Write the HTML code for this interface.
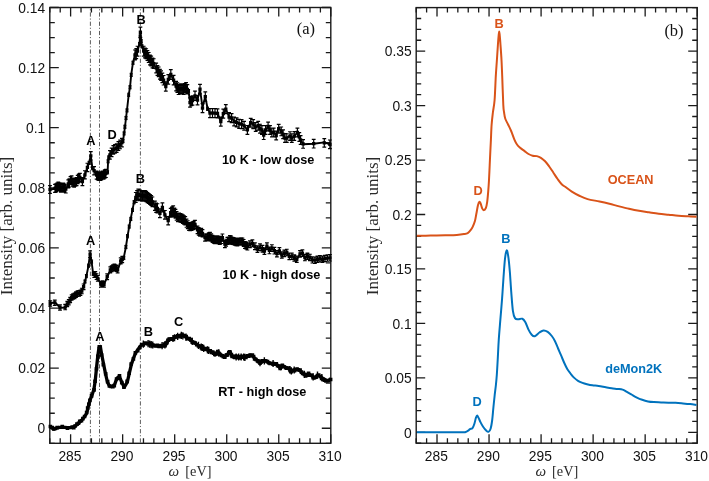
<!DOCTYPE html>
<html><head><meta charset="utf-8"><style>
html,body{margin:0;padding:0;background:#fff;width:709px;height:481px;overflow:hidden}
svg{display:block;will-change:transform}
.tl{font-family:"Liberation Sans",sans-serif;font-size:13.8px;fill:#111}
.lb{font-family:"Liberation Sans",sans-serif;font-size:12.7px;font-weight:bold}
.pk{font-family:"Liberation Sans",sans-serif;font-size:12.8px;font-weight:bold}
.pt{font-family:"Liberation Serif",serif;font-size:16.5px;fill:#111}
.at{font-family:"Liberation Serif",serif;font-size:15px;fill:#2a2a2a}
.yt{font-size:17px}
</style></head><body>
<svg width="709" height="481" viewBox="0 0 709 481">
<line x1="90.4" y1="8.2" x2="90.4" y2="442.6" stroke="#4a4a4a" stroke-width="0.9" stroke-dasharray="4.2 1.9 1.1 2.06" stroke-dashoffset="5.06"/>
<line x1="99.5" y1="8.2" x2="99.5" y2="442.6" stroke="#4a4a4a" stroke-width="0.9" stroke-dasharray="4.2 1.9 1.1 2.06" stroke-dashoffset="5.06"/>
<line x1="140.4" y1="8.2" x2="140.4" y2="442.6" stroke="#4a4a4a" stroke-width="0.9" stroke-dasharray="4.2 1.9 1.1 2.06" stroke-dashoffset="5.06"/>
<path d="M49.8 443.3v-5M49.8 7.5v5M60.21 443.3v-5M60.21 7.5v5M70.61 443.3v-9M70.61 7.5v9M81.02 443.3v-5M81.02 7.5v5M91.43 443.3v-5M91.43 7.5v5M101.84 443.3v-5M101.84 7.5v5M112.24 443.3v-5M112.24 7.5v5M122.65 443.3v-9M122.65 7.5v9M133.06 443.3v-5M133.06 7.5v5M143.47 443.3v-5M143.47 7.5v5M153.87 443.3v-5M153.87 7.5v5M164.28 443.3v-5M164.28 7.5v5M174.69 443.3v-9M174.69 7.5v9M185.1 443.3v-5M185.1 7.5v5M195.5 443.3v-5M195.5 7.5v5M205.91 443.3v-5M205.91 7.5v5M216.32 443.3v-5M216.32 7.5v5M226.73 443.3v-9M226.73 7.5v9M237.13 443.3v-5M237.13 7.5v5M247.54 443.3v-5M247.54 7.5v5M257.95 443.3v-5M257.95 7.5v5M268.36 443.3v-5M268.36 7.5v5M278.76 443.3v-9M278.76 7.5v9M289.17 443.3v-5M289.17 7.5v5M299.58 443.3v-5M299.58 7.5v5M309.99 443.3v-5M309.99 7.5v5M320.39 443.3v-5M320.39 7.5v5M330.8 443.3v-9M330.8 7.5v9M49.8 443.3h5M330.8 443.3h-5M49.8 428.27h9M330.8 428.27h-9M49.8 413.24h5M330.8 413.24h-5M49.8 398.22h5M330.8 398.22h-5M49.8 383.19h5M330.8 383.19h-5M49.8 368.16h9M330.8 368.16h-9M49.8 353.13h5M330.8 353.13h-5M49.8 338.11h5M330.8 338.11h-5M49.8 323.08h5M330.8 323.08h-5M49.8 308.05h9M330.8 308.05h-9M49.8 293.02h5M330.8 293.02h-5M49.8 278h5M330.8 278h-5M49.8 262.97h5M330.8 262.97h-5M49.8 247.94h9M330.8 247.94h-9M49.8 232.91h5M330.8 232.91h-5M49.8 217.89h5M330.8 217.89h-5M49.8 202.86h5M330.8 202.86h-5M49.8 187.83h9M330.8 187.83h-9M49.8 172.8h5M330.8 172.8h-5M49.8 157.78h5M330.8 157.78h-5M49.8 142.75h5M330.8 142.75h-5M49.8 127.72h9M330.8 127.72h-9M49.8 112.69h5M330.8 112.69h-5M49.8 97.67h5M330.8 97.67h-5M49.8 82.64h5M330.8 82.64h-5M49.8 67.61h9M330.8 67.61h-9M49.8 52.58h5M330.8 52.58h-5M49.8 37.56h5M330.8 37.56h-5M49.8 22.53h5M330.8 22.53h-5M49.8 7.5h9M330.8 7.5h-9" stroke="#1a1a1a" stroke-width="1.3" fill="none"/>
<rect x="49.8" y="7.5" width="281" height="435.8" fill="none" stroke="#1a1a1a" stroke-width="1.4"/>
<text x="69.91" y="460.6" class="tl" text-anchor="middle">285</text>
<text x="121.95" y="460.6" class="tl" text-anchor="middle">290</text>
<text x="173.99" y="460.6" class="tl" text-anchor="middle">295</text>
<text x="226.03" y="460.6" class="tl" text-anchor="middle">300</text>
<text x="278.06" y="460.6" class="tl" text-anchor="middle">305</text>
<text x="330.1" y="460.6" class="tl" text-anchor="middle">310</text>
<text x="45.2" y="433.47" class="tl" text-anchor="end">0</text>
<text x="45.2" y="373.36" class="tl" text-anchor="end">0.02</text>
<text x="45.2" y="313.25" class="tl" text-anchor="end">0.04</text>
<text x="45.2" y="253.14" class="tl" text-anchor="end">0.06</text>
<text x="45.2" y="193.03" class="tl" text-anchor="end">0.08</text>
<text x="45.2" y="132.92" class="tl" text-anchor="end">0.1</text>
<text x="45.2" y="72.81" class="tl" text-anchor="end">0.12</text>
<text x="45.2" y="12.7" class="tl" text-anchor="end">0.14</text>
<path d="M416.2 443.2v-5M416.2 7.6v5M426.61 443.2v-5M426.61 7.6v5M437.01 443.2v-9M437.01 7.6v9M447.42 443.2v-5M447.42 7.6v5M457.83 443.2v-5M457.83 7.6v5M468.24 443.2v-5M468.24 7.6v5M478.64 443.2v-5M478.64 7.6v5M489.05 443.2v-9M489.05 7.6v9M499.46 443.2v-5M499.46 7.6v5M509.87 443.2v-5M509.87 7.6v5M520.27 443.2v-5M520.27 7.6v5M530.68 443.2v-5M530.68 7.6v5M541.09 443.2v-9M541.09 7.6v9M551.5 443.2v-5M551.5 7.6v5M561.9 443.2v-5M561.9 7.6v5M572.31 443.2v-5M572.31 7.6v5M582.72 443.2v-5M582.72 7.6v5M593.13 443.2v-9M593.13 7.6v9M603.53 443.2v-5M603.53 7.6v5M613.94 443.2v-5M613.94 7.6v5M624.35 443.2v-5M624.35 7.6v5M634.76 443.2v-5M634.76 7.6v5M645.16 443.2v-9M645.16 7.6v9M655.57 443.2v-5M655.57 7.6v5M665.98 443.2v-5M665.98 7.6v5M676.39 443.2v-5M676.39 7.6v5M686.79 443.2v-5M686.79 7.6v5M697.2 443.2v-9M697.2 7.6v9M416.2 443.2h5M697.2 443.2h-5M416.2 432.31h9M697.2 432.31h-9M416.2 421.42h5M697.2 421.42h-5M416.2 410.53h5M697.2 410.53h-5M416.2 399.64h5M697.2 399.64h-5M416.2 388.75h5M697.2 388.75h-5M416.2 377.86h9M697.2 377.86h-9M416.2 366.97h5M697.2 366.97h-5M416.2 356.08h5M697.2 356.08h-5M416.2 345.19h5M697.2 345.19h-5M416.2 334.3h5M697.2 334.3h-5M416.2 323.41h9M697.2 323.41h-9M416.2 312.52h5M697.2 312.52h-5M416.2 301.63h5M697.2 301.63h-5M416.2 290.74h5M697.2 290.74h-5M416.2 279.85h5M697.2 279.85h-5M416.2 268.96h9M697.2 268.96h-9M416.2 258.07h5M697.2 258.07h-5M416.2 247.18h5M697.2 247.18h-5M416.2 236.29h5M697.2 236.29h-5M416.2 225.4h5M697.2 225.4h-5M416.2 214.51h9M697.2 214.51h-9M416.2 203.62h5M697.2 203.62h-5M416.2 192.73h5M697.2 192.73h-5M416.2 181.84h5M697.2 181.84h-5M416.2 170.95h5M697.2 170.95h-5M416.2 160.06h9M697.2 160.06h-9M416.2 149.17h5M697.2 149.17h-5M416.2 138.28h5M697.2 138.28h-5M416.2 127.39h5M697.2 127.39h-5M416.2 116.5h5M697.2 116.5h-5M416.2 105.61h9M697.2 105.61h-9M416.2 94.72h5M697.2 94.72h-5M416.2 83.83h5M697.2 83.83h-5M416.2 72.94h5M697.2 72.94h-5M416.2 62.05h5M697.2 62.05h-5M416.2 51.16h9M697.2 51.16h-9M416.2 40.27h5M697.2 40.27h-5M416.2 29.38h5M697.2 29.38h-5M416.2 18.49h5M697.2 18.49h-5M416.2 7.6h5M697.2 7.6h-5" stroke="#1a1a1a" stroke-width="1.3" fill="none"/>
<rect x="416.2" y="7.6" width="281" height="435.6" fill="none" stroke="#1a1a1a" stroke-width="1.4"/>
<text x="436.31" y="460.6" class="tl" text-anchor="middle">285</text>
<text x="488.35" y="460.6" class="tl" text-anchor="middle">290</text>
<text x="540.39" y="460.6" class="tl" text-anchor="middle">295</text>
<text x="592.43" y="460.6" class="tl" text-anchor="middle">300</text>
<text x="644.46" y="460.6" class="tl" text-anchor="middle">305</text>
<text x="696.5" y="460.6" class="tl" text-anchor="middle">310</text>
<text x="411.6" y="437.51" class="tl" text-anchor="end">0</text>
<text x="411.6" y="383.06" class="tl" text-anchor="end">0.05</text>
<text x="411.6" y="328.61" class="tl" text-anchor="end">0.1</text>
<text x="411.6" y="274.16" class="tl" text-anchor="end">0.15</text>
<text x="411.6" y="219.71" class="tl" text-anchor="end">0.2</text>
<text x="411.6" y="165.26" class="tl" text-anchor="end">0.25</text>
<text x="411.6" y="110.81" class="tl" text-anchor="end">0.3</text>
<text x="411.6" y="56.36" class="tl" text-anchor="end">0.35</text>
<g fill="none" stroke="#000" stroke-linejoin="round">
<path d="M50 189.5 55 188.8 58.3 186 60.8 188.2 63.3 187 65.8 189 68.3 184.5 71.6 179.9 74.1 183.2 76.6 181.6 79.9 176.6 82.4 181.6 84.9 174.9 87.4 167.4 89.1 162.4 90.8 155.8 92.4 168.2 94.1 170.7 96.6 174.9 99 176.9 101.3 175.7 103.6 174.6 105.9 173.4 107.6 172.3 108.1 160.9 108.7 157.4 109.9 154.6 111.6 152.3 113.3 150.6 115 148.9 116.7 147.7 118.4 146 120.1 144.3 121.9 142.6 123 141.4 124.1 133.4 124.9 127.5 126 118 127 109.8 128.7 94.8 130 87.3 131.2 74.9 133 62.4 135 54.9 137.5 51.2 139.5 43.7 140.1 36.5 140.4 31.6 141.2 41 142 46.5 143.7 51.2 146.2 53.7 148.7 57.4 151.2 61.1 153.7 63.6 156.2 68.6 158.7 72.4 161.1 76.1 163.6 79.5 165.8 86.5 168.3 79.5 170.8 74.5 173.6 79.9 176.1 86.1 178.6 89.8 181.1 88.6 183.6 89.8 186.1 87.3 188.6 91.1 190 102.4 192.5 99.9 195 95.8 197.5 99.9 200 89.1 202.5 107.4 205.3 96.6 207.5 108.2 210 113.2 212.5 112.4 215 113.2 217.5 113.2 220.8 121.6 223.3 114.1 225.8 109.1 229.1 116.6 231.6 118.2 234.1 120.7 236.6 122.4 239.1 123.2 241.6 124.1 244.1 125.7 247.4 129.9 250.7 122.4 253.2 124.1 255.7 127.4 258.2 125.7 260 128.1 261.9 130 263.7 135 265.6 130 268.1 126.8 270 130 271.9 133.1 273.7 132.5 276.2 135 278.7 128.7 281.2 130.6 283.1 134.3 285 138.7 286.8 138.1 290 135.6 291.8 138.1 294.3 136.2 297.4 132.5 299.3 137.5 300.6 140 303.1 144.3 313.7 143.7 324.3 142.4 329.9 144.3" stroke-width="1.9"/>
<path d="M50 185.53v7.95M48.1 185.53h3.8M48.1 193.47h3.8M55 184.4v7.96M53.1 184.4h3.8M53.1 192.36h3.8M56.1 183.88v7.97M54.2 183.88h3.8M54.2 191.85h3.8M57.2 183.01v7.98M55.3 183.01h3.8M55.3 191h3.8M58.3 182v8M56.4 182h3.8M56.4 190h3.8M59.55 182.9v7.99M57.65 182.9h3.8M57.65 190.88h3.8M60.8 184.22v7.97M58.9 184.22h3.8M58.9 192.18h3.8M62.05 183.78v7.97M60.15 183.78h3.8M60.15 191.75h3.8M63.3 183.01v7.98M61.4 183.01h3.8M61.4 190.99h3.8M64.55 184.22v7.97M62.65 184.22h3.8M62.65 192.18h3.8M65.8 185.02v7.96M63.9 185.02h3.8M63.9 192.98h3.8M68.3 179.79v8.03M66.4 179.79h3.8M66.4 187.82h3.8M69.4 178.95v8.04M67.5 178.95h3.8M67.5 186.99h3.8M70.5 176.62v8.07M68.6 176.62h3.8M68.6 184.69h3.8M71.6 175.86v8.08M69.7 175.86h3.8M69.7 183.94h3.8M72.85 178.06v8.05M70.95 178.06h3.8M70.95 186.12h3.8M74.1 179.18v8.04M72.2 179.18h3.8M72.2 187.22h3.8M75.35 177.99v8.05M73.45 177.99h3.8M73.45 186.04h3.8M76.6 177.57v8.06M74.7 177.57h3.8M74.7 185.63h3.8M77.7 175.46v8.09M75.8 175.46h3.8M75.8 183.55h3.8M78.8 174.21v8.11M76.9 174.21h3.8M76.9 182.32h3.8M79.9 173.33v8.12M78 173.33h3.8M78 181.45h3.8M82.4 177.57v8.06M80.5 177.57h3.8M80.5 185.63h3.8M84.9 170.77v8.16M83 170.77h3.8M83 178.93h3.8M87.4 163.27v8.26M85.5 163.27h3.8M85.5 171.53h3.8M90.8 151.59v8.42M88.9 151.59h3.8M88.9 160.01h3.8M94.1 166.59v8.21M92.2 166.59h3.8M92.2 174.81h3.8M96.6 171.05v8.15M94.7 171.05h3.8M94.7 179.2h3.8M97.8 171.83v8.14M95.9 171.83h3.8M95.9 179.97h3.8M99 172.27v8.13M97.1 172.27h3.8M97.1 180.41h3.8M100.15 172.23v8.13M98.25 172.23h3.8M98.25 180.37h3.8M101.3 171.85v8.14M99.4 171.85h3.8M99.4 179.99h3.8M102.45 171.07v8.15M100.55 171.07h3.8M100.55 179.23h3.8M103.6 171.11v8.15M101.7 171.11h3.8M101.7 179.26h3.8M104.75 169.92v8.17M102.85 169.92h3.8M102.85 178.08h3.8M105.9 169.35v8.18M104 169.35h3.8M104 177.52h3.8M109.9 150.66v8.44M108 150.66h3.8M108 159.09h3.8M111.6 148.06v8.47M109.7 148.06h3.8M109.7 156.54h3.8M113.3 145.65v8.51M111.4 145.65h3.8M111.4 154.16h3.8M115 144.64v8.52M113.1 144.64h3.8M113.1 153.16h3.8M116.7 143.85v8.53M114.8 143.85h3.8M114.8 152.38h3.8M118.4 141.72v8.56M116.5 141.72h3.8M116.5 150.28h3.8M120.1 140.15v8.58M118.2 140.15h3.8M118.2 148.74h3.8M121.9 138.29v8.61M120 138.29h3.8M120 146.91h3.8M135 49.98v9.85M133.1 49.98h3.8M133.1 59.82h3.8M136.25 48.72v9.87M134.35 48.72h3.8M134.35 58.59h3.8M137.5 46.25v9.9M135.6 46.25h3.8M135.6 56.15h3.8M140.4 27.19v10.17M138.5 27.19h3.8M138.5 37.36h3.8M143.7 46.25v9.9M141.8 46.25h3.8M141.8 56.15h3.8M144.95 47.99v9.88M143.05 47.99h3.8M143.05 57.87h3.8M146.2 48.77v9.87M144.3 48.77h3.8M144.3 58.63h3.8M147.45 50.54v9.84M145.55 50.54h3.8M145.55 60.38h3.8M148.7 52.49v9.81M146.8 52.49h3.8M146.8 62.31h3.8M149.95 55.06v9.78M148.05 55.06h3.8M148.05 64.84h3.8M151.2 56.22v9.76M149.3 56.22h3.8M149.3 65.98h3.8M152.45 58.09v9.73M150.55 58.09h3.8M150.55 67.82h3.8M153.7 58.74v9.73M151.8 58.74h3.8M151.8 68.46h3.8M156.2 63.12v9.66M154.3 63.12h3.8M154.3 72.79h3.8M157.45 65.69v9.63M155.55 65.69h3.8M155.55 75.31h3.8M158.7 67.01v9.61M156.8 67.01h3.8M156.8 76.62h3.8M159.9 69.46v9.58M158 69.46h3.8M158 79.04h3.8M161.1 70.87v9.56M159.2 70.87h3.8M159.2 80.42h3.8M162.35 73.04v9.53M160.45 73.04h3.8M160.45 82.56h3.8M163.6 75.5v9.49M161.7 75.5h3.8M161.7 84.99h3.8M165.8 81.8v9.4M163.9 81.8h3.8M163.9 91.2h3.8M168.3 74.65v9.5M166.4 74.65h3.8M166.4 84.15h3.8M170.8 69.71v9.57M168.9 69.71h3.8M168.9 79.29h3.8M173.6 75.36v9.49M171.7 75.36h3.8M171.7 84.85h3.8M176.1 81.4v9.41M174.2 81.4h3.8M174.2 90.8h3.8M177.35 82.94v9.39M175.45 82.94h3.8M175.45 92.32h3.8M178.6 85.12v9.36M176.7 85.12h3.8M176.7 94.48h3.8M179.85 84.53v9.36M177.95 84.53h3.8M177.95 93.89h3.8M181.1 83.91v9.37M179.2 83.91h3.8M179.2 93.29h3.8M182.35 84.33v9.37M180.45 84.33h3.8M180.45 93.7h3.8M183.6 85.12v9.36M181.7 85.12h3.8M181.7 94.48h3.8M184.85 83.62v9.38M182.95 83.62h3.8M182.95 93h3.8M186.1 82.6v9.39M184.2 82.6h3.8M184.2 92h3.8M187.35 84.65v9.36M185.45 84.65h3.8M185.45 94.02h3.8M190 97.95v9.18M188.1 97.95h3.8M188.1 107.12h3.8M191.25 96.55v9.2M189.35 96.55h3.8M189.35 105.75h3.8M192.5 95.94v9.2M190.6 95.94h3.8M190.6 105.15h3.8M195 91.16v9.27M193.1 91.16h3.8M193.1 100.44h3.8M197.5 95.59v9.21M195.6 95.59h3.8M195.6 104.8h3.8M200 84.42v9.37M198.1 84.42h3.8M198.1 93.78h3.8M202.5 103.54v9.1M200.6 103.54h3.8M200.6 112.64h3.8M205.3 91.97v9.26M203.4 91.97h3.8M203.4 101.23h3.8M210 108.69v9.03M208.1 108.69h3.8M208.1 117.71h3.8M212.5 108.67v9.03M210.6 108.67h3.8M210.6 117.7h3.8M215 108.69v9.03M213.1 108.69h3.8M213.1 117.71h3.8M217.5 108.96v9.02M215.6 108.96h3.8M215.6 117.98h3.8M220.8 117.15v8.91M218.9 117.15h3.8M218.9 126.05h3.8M223.3 109.05v9.02M221.4 109.05h3.8M221.4 118.07h3.8M225.8 104.56v9.08M223.9 104.56h3.8M223.9 113.64h3.8M229.1 112.69v8.97M227.2 112.69h3.8M227.2 121.66h3.8M231.6 113.72v8.95M229.7 113.72h3.8M229.7 122.68h3.8M234.1 116.99v8.91M232.2 116.99h3.8M232.2 125.9h3.8M236.6 117.95v8.9M234.7 117.95h3.8M234.7 126.85h3.8M239.1 119.41v8.88M237.2 119.41h3.8M237.2 128.29h3.8M241.6 119.66v8.87M239.7 119.66h3.8M239.7 128.54h3.8M244.1 121.39v8.85M242.2 121.39h3.8M242.2 130.23h3.8M247.4 125.51v8.79M245.5 125.51h3.8M245.5 134.29h3.8M250.7 118.3v8.89M248.8 118.3h3.8M248.8 127.19h3.8M253.2 119.66v8.87M251.3 119.66h3.8M251.3 128.54h3.8M255.7 122.52v8.83M253.8 122.52h3.8M253.8 131.35h3.8M258.2 121.28v8.85M256.3 121.28h3.8M256.3 130.12h3.8M260 124.23v8.81M258.1 124.23h3.8M258.1 133.03h3.8M261.9 125.61v8.79M260 125.61h3.8M260 134.39h3.8M263.7 130.76v8.72M261.8 130.76h3.8M261.8 139.48h3.8M265.6 125.61v8.79M263.7 125.61h3.8M263.7 134.39h3.8M268.1 122.04v8.84M266.2 122.04h3.8M266.2 130.88h3.8M270 125.61v8.79M268.1 125.61h3.8M268.1 134.39h3.8M271.9 128.02v8.75M270 128.02h3.8M270 136.78h3.8M273.7 128.12v8.75M271.8 128.12h3.8M271.8 136.88h3.8M276.2 131.21v8.71M274.3 131.21h3.8M274.3 139.92h3.8M278.7 124.3v8.81M276.8 124.3h3.8M276.8 133.1h3.8M281.2 127v8.77M279.3 127h3.8M279.3 135.77h3.8M283.1 129.94v8.73M281.2 129.94h3.8M281.2 138.66h3.8M285 133.7v8.67M283.1 133.7h3.8M283.1 142.38h3.8M286.8 133.76v8.67M284.9 133.76h3.8M284.9 142.44h3.8M290 131.73v8.7M288.1 131.73h3.8M288.1 140.43h3.8M291.8 133.76v8.67M289.9 133.76h3.8M289.9 142.44h3.8M294.3 131.71v8.7M292.4 131.71h3.8M292.4 140.41h3.8M297.4 128.12v8.75M295.5 128.12h3.8M295.5 136.88h3.8M299.3 132.6v8.69M297.4 132.6h3.8M297.4 141.29h3.8M300.6 135.68v8.65M298.7 135.68h3.8M298.7 144.32h3.8M303.1 139.67v8.59M301.2 139.67h3.8M301.2 148.27h3.8M313.7 139.4v8.59M311.8 139.4h3.8M311.8 148h3.8M324.3 138.53v8.61M322.4 138.53h3.8M322.4 147.13h3.8M329.9 140.01v8.59M328 140.01h3.8M328 148.59h3.8" stroke-width="1.2"/>
<path d="M89.1 161.34v3.2M87.6 161.34h3M87.6 164.54h3M92.4 166.56v3.2M90.9 166.56h3M90.9 169.76h3M107.6 170.7v3.2M106.1 170.7h3M106.1 173.9h3M108.1 159.69v3.2M106.6 159.69h3M106.6 162.89h3M108.7 155.8v3.2M107.2 155.8h3M107.2 159h3M123 139.48v3.2M121.5 139.48h3M121.5 142.68h3M124.1 131.8v3.2M122.6 131.8h3M122.6 135h3M124.9 125.15v3.2M123.4 125.15h3M123.4 128.35h3M126 116.4v3.2M124.5 116.4h3M124.5 119.6h3M127 108.78v3.2M125.5 108.78h3M125.5 111.98h3M128.7 93.2v3.2M127.2 93.2h3M127.2 96.4h3M130 85.66v3.2M128.5 85.66h3M128.5 88.86h3M131.2 73.3v3.2M129.7 73.3h3M129.7 76.5h3M133 61.15v3.2M131.5 61.15h3M131.5 64.35h3M139.5 42.44v3.2M138 42.44h3M138 45.64h3M140.1 34.9v3.2M138.6 34.9h3M138.6 38.1h3M141.2 39.4v3.2M139.7 39.4h3M139.7 42.6h3M142 44.73v3.2M140.5 44.73h3M140.5 47.93h3M188.6 89.5v3.2M187.1 89.5h3M187.1 92.7h3M207.5 107.17v3.2M206 107.17h3M206 110.37h3" stroke-width="1.0"/>
<path d="M48.35 189.5h3.3M53.35 188.38h3.3M54.45 187.87h3.3M55.55 187h3.3M56.65 186h3.3M57.9 186.89h3.3M59.15 188.2h3.3M60.4 187.77h3.3M61.65 187h3.3M62.9 188.2h3.3M64.15 189h3.3M66.65 183.8h3.3M67.75 182.97h3.3M68.85 180.65h3.3M69.95 179.9h3.3M71.2 182.09h3.3M72.45 183.2h3.3M73.7 182.01h3.3M74.95 181.6h3.3M76.05 179.51h3.3M77.15 178.27h3.3M78.25 177.39h3.3M80.75 181.6h3.3M83.25 174.85h3.3M85.75 167.4h3.3M89.15 155.8h3.3M92.45 170.7h3.3M94.95 175.12h3.3M96.15 175.9h3.3M97.35 176.34h3.3M98.5 176.3h3.3M99.65 175.92h3.3M100.8 175.15h3.3M101.95 175.19h3.3M103.1 174h3.3M104.25 173.44h3.3M108.25 154.87h3.3M109.95 152.3h3.3M111.65 149.9h3.3M113.35 148.9h3.3M115.05 148.11h3.3M116.75 146h3.3M118.45 144.45h3.3M120.25 142.6h3.3M133.35 54.9h3.3M134.6 53.66h3.3M135.85 51.2h3.3M138.75 32.27h3.3M142.05 51.2h3.3M143.3 52.93h3.3M144.55 53.7h3.3M145.8 55.46h3.3M147.05 57.4h3.3M148.3 59.95h3.3M149.55 61.1h3.3M150.8 62.96h3.3M152.05 63.6h3.3M154.55 67.96h3.3M155.8 70.5h3.3M157.05 71.82h3.3M158.25 74.25h3.3M159.45 75.65h3.3M160.7 77.8h3.3M161.95 80.24h3.3M164.15 86.5h3.3M166.65 79.4h3.3M169.15 74.5h3.3M171.95 80.1h3.3M174.45 86.1h3.3M175.7 87.63h3.3M176.95 89.8h3.3M178.2 89.21h3.3M179.45 88.6h3.3M180.7 89.02h3.3M181.95 89.8h3.3M183.2 88.31h3.3M184.45 87.3h3.3M185.7 89.34h3.3M188.35 102.53h3.3M189.6 101.15h3.3M190.85 100.55h3.3M193.35 95.8h3.3M195.85 100.19h3.3M198.35 89.1h3.3M200.85 108.09h3.3M203.65 96.6h3.3M208.35 113.2h3.3M210.85 113.19h3.3M213.35 113.2h3.3M215.85 113.47h3.3M219.15 121.6h3.3M221.65 113.56h3.3M224.15 109.1h3.3M227.45 117.18h3.3M229.95 118.2h3.3M232.45 121.44h3.3M234.95 122.4h3.3M237.45 123.85h3.3M239.95 124.1h3.3M242.45 125.81h3.3M245.75 129.9h3.3M249.05 122.74h3.3M251.55 124.1h3.3M254.05 126.94h3.3M256.55 125.7h3.3M258.35 128.63h3.3M260.25 130h3.3M262.05 135.12h3.3M263.95 130h3.3M266.45 126.46h3.3M268.35 130h3.3M270.25 132.4h3.3M272.05 132.5h3.3M274.55 135.57h3.3M277.05 128.7h3.3M279.55 131.38h3.3M281.45 134.3h3.3M283.35 138.04h3.3M285.15 138.1h3.3M288.35 136.08h3.3M290.15 138.1h3.3M292.65 136.06h3.3M295.75 132.5h3.3M297.65 136.94h3.3M298.95 140h3.3M301.45 143.97h3.3M312.05 143.7h3.3M322.65 142.83h3.3M328.25 144.3h3.3" stroke-width="3.3"/>
<path d="M87.7 162.94h2.8M91 168.16h2.8M106.2 172.3h2.8M106.7 161.29h2.8M107.3 157.4h2.8M121.6 141.08h2.8M122.7 133.4h2.8M123.5 126.75h2.8M124.6 118h2.8M125.6 110.38h2.8M127.3 94.8h2.8M128.6 87.26h2.8M129.8 74.9h2.8M131.6 62.75h2.8M138.1 44.04h2.8M138.7 36.5h2.8M139.8 41h2.8M140.6 46.33h2.8M187.2 91.1h2.8M206.1 108.77h2.8" stroke-width="2.8"/>
<path d="M50.2 303.5 54.8 302.2 60 307.5 65.2 307.8 67.3 304 70.2 300 73.1 296.5 76 294.6 79.1 293.3 81.8 291 83.6 286 85 281.5 86.4 276.1 88.5 265.7 90.1 253.3 91.6 261.6 93.2 274.1 95.3 275.1 97.8 278.2 100.9 284.4 104 284.4 107.2 277.2 110.3 269.9 114.4 266.8 117.6 269.9 120.7 261.6 123.8 257.4 125.9 247 127.5 236.5 129.2 226.6 130.8 218.2 132.5 209.9 134.1 201.6 135.8 197.5 138.3 194.3 140 195.3 142.5 196 145 195.5 147.5 197.5 150 199.5 152.4 201.6 154.9 205.8 157.4 208.3 159.9 213.3 162.4 207.4 164.9 214.9 168.2 220.7 170.7 212.4 173.2 210.8 176.6 215.8 179.1 217.4 181.6 218.2 184 219.9 186.5 223.2 189 226.5 192.5 226.6 195 224.1 197.5 229.9 200 232.4 202.5 233.3 205 237.4 207.5 237.4 210 235.8 212.5 239.1 215 239.9 217.5 239.1 219.9 241.6 222.4 238.3 224.9 244.1 227.4 240.8 229.9 239.1 232.4 240.8 234.9 241.6 237.4 242.4 239.9 241.6 242.4 241.6 244.9 244.9 247.4 246.6 249.9 244.1 252.4 243.3 254.9 246.6 257.4 249.1 260 247.5 262.5 248.7 264.4 250.6 266.9 246.2 269.4 251.2 271.9 248.1 274.4 250.6 276.9 253.7 279.4 250.6 281.8 255 284.3 253.7 286.8 252.5 289.3 256.8 291.8 256.2 294.3 257.5 296.8 259.3 300 254.3 302.4 253.1 304.9 258.1 307.4 256.2 309.9 257.5 312.4 259.9 314.9 259.9 317.4 259.3 319.9 259.3 322.4 259.3 324.9 258.7 327.4 258.1 329.9 258.1" stroke-width="1.9"/>
<path d="M50.2 300.8v5.4M48.3 300.8h3.8M48.3 306.2h3.8M54.8 300.1v5.4M52.9 300.1h3.8M52.9 305.5h3.8M60 304.8v5.4M58.1 304.8h3.8M58.1 310.2h3.8M65.2 304.37v5.4M63.3 304.37h3.8M63.3 309.77h3.8M67.3 301.3v5.4M65.4 301.3h3.8M65.4 306.7h3.8M68.75 299.48v5.4M66.85 299.48h3.8M66.85 304.88h3.8M70.2 297.3v5.41M68.3 297.3h3.8M68.3 302.7h3.8M71.65 294.81v5.42M69.75 294.81h3.8M69.75 300.23h3.8M73.1 293.79v5.43M71.2 293.79h3.8M71.2 299.21h3.8M74.55 293.18v5.43M72.65 293.18h3.8M72.65 298.62h3.8M76 291.88v5.44M74.1 291.88h3.8M74.1 297.32h3.8M77.55 290.95v5.45M75.65 290.95h3.8M75.65 296.4h3.8M79.1 290.57v5.45M77.2 290.57h3.8M77.2 296.03h3.8M80.45 290.03v5.46M78.55 290.03h3.8M78.55 295.49h3.8M81.8 288.26v5.48M79.9 288.26h3.8M79.9 293.74h3.8M83.6 284v5.53M81.7 284h3.8M81.7 289.53h3.8M90.1 250.88v6.43M88.2 250.88h3.8M88.2 257.31h3.8M94.25 271.72v5.77M92.35 271.72h3.8M92.35 277.48h3.8M95.3 271.54v5.77M93.4 271.54h3.8M93.4 277.31h3.8M96.55 273.79v5.72M94.65 273.79h3.8M94.65 279.51h3.8M97.8 275.52v5.68M95.9 275.52h3.8M95.9 281.2h3.8M100.9 281.62v5.57M99 281.62h3.8M99 287.18h3.8M102.45 280.86v5.58M100.55 280.86h3.8M100.55 286.44h3.8M104 281.62v5.57M102.1 281.62h3.8M102.1 287.18h3.8M107.2 273.86v5.72M105.3 273.86h3.8M105.3 279.57h3.8M110.3 266.96v5.89M108.4 266.96h3.8M108.4 272.84h3.8M111.67 265.76v5.92M109.77 265.76h3.8M109.77 271.68h3.8M113.03 264.86v5.95M111.13 264.86h3.8M111.13 270.81h3.8M114.4 263.99v5.97M112.5 263.99h3.8M112.5 269.96h3.8M115.47 264.86v5.95M113.57 264.86h3.8M113.57 270.81h3.8M116.53 265.35v5.93M114.63 265.35h3.8M114.63 271.28h3.8M117.6 266.96v5.89M115.7 266.96h3.8M115.7 272.84h3.8M120.7 257.78v6.17M118.8 257.78h3.8M118.8 263.95h3.8M122.25 256.39v6.22M120.35 256.39h3.8M120.35 262.61h3.8M135.8 192.51v9.98M133.9 192.51h3.8M133.9 202.49h3.8M137.05 190.64v10.14M135.15 190.64h3.8M135.15 200.77h3.8M138.3 189.17v10.26M136.4 189.17h3.8M136.4 199.43h3.8M140 190.15v10.18M138.1 190.15h3.8M138.1 200.33h3.8M141.25 190.58v10.14M139.35 190.58h3.8M139.35 200.72h3.8M142.5 190.98v10.11M140.6 190.98h3.8M140.6 201.09h3.8M143.75 190.68v10.13M141.85 190.68h3.8M141.85 200.82h3.8M145 190.66v10.14M143.1 190.66h3.8M143.1 200.8h3.8M146.25 191.47v10.07M144.35 191.47h3.8M144.35 201.53h3.8M147.5 192.67v9.97M145.6 192.67h3.8M145.6 202.64h3.8M148.75 193.55v9.9M146.85 193.55h3.8M146.85 203.45h3.8M150 194.69v9.81M148.1 194.69h3.8M148.1 204.5h3.8M151.2 195.69v9.73M149.3 195.69h3.8M149.3 205.41h3.8M152.4 196.98v9.63M150.5 196.98h3.8M150.5 206.6h3.8M154.9 201.15v9.3M153 201.15h3.8M153 210.45h3.8M156.15 203.18v9.15M154.25 203.18h3.8M154.25 212.33h3.8M157.4 203.75v9.11M155.5 203.75h3.8M155.5 212.85h3.8M159.9 208.94v8.73M158 208.94h3.8M158 217.68h3.8M162.4 202.81v9.18M160.5 202.81h3.8M160.5 211.99h3.8M164.9 210.48v8.63M163 210.48h3.8M163 219.1h3.8M168.2 216.59v8.22M166.3 216.59h3.8M166.3 224.81h3.8M170.7 208.36v8.78M168.8 208.36h3.8M168.8 217.14h3.8M171.95 207.17v8.86M170.05 207.17h3.8M170.05 216.03h3.8M173.2 205.9v8.95M171.3 205.9h3.8M171.3 214.86h3.8M174.33 208.07v8.8M172.43 208.07h3.8M172.43 216.86h3.8M175.47 209.47v8.7M173.57 209.47h3.8M173.57 218.16h3.8M176.6 211.52v8.56M174.7 211.52h3.8M174.7 220.08h3.8M177.85 213.14v8.45M175.95 213.14h3.8M175.95 221.59h3.8M179.1 213.18v8.44M177.2 213.18h3.8M177.2 221.62h3.8M180.35 213.63v8.41M178.45 213.63h3.8M178.45 222.04h3.8M181.6 214.01v8.39M179.7 214.01h3.8M179.7 222.39h3.8M182.8 214.96v8.33M180.9 214.96h3.8M180.9 223.29h3.8M184 215.76v8.27M182.1 215.76h3.8M182.1 224.04h3.8M185.25 216.66v8.21M183.35 216.66h3.8M183.35 224.88h3.8M186.5 219.17v8.05M184.6 219.17h3.8M184.6 227.23h3.8M187.75 220.74v7.96M185.85 220.74h3.8M185.85 228.69h3.8M189 222.58v7.84M187.1 222.58h3.8M187.1 230.42h3.8M190.17 222.74v7.83M188.27 222.74h3.8M188.27 230.58h3.8M191.33 222.65v7.84M189.43 222.65h3.8M189.43 230.49h3.8M192.5 221.89v7.89M190.6 221.89h3.8M190.6 229.78h3.8M193.75 221.39v7.92M191.85 221.39h3.8M191.85 229.31h3.8M195 220.29v7.98M193.1 220.29h3.8M193.1 228.28h3.8M197.5 226.08v7.64M195.6 226.08h3.8M195.6 233.72h3.8M198.75 227.59v7.55M196.85 227.59h3.8M196.85 235.14h3.8M200 228.65v7.49M198.1 228.65h3.8M198.1 236.15h3.8M201.25 228.39v7.51M199.35 228.39h3.8M199.35 235.9h3.8M202.5 229.58v7.44M200.6 229.58h3.8M200.6 237.02h3.8M205 234v7.2M203.1 234h3.8M203.1 241.2h3.8M206.25 233.79v7.21M204.35 233.79h3.8M204.35 241.01h3.8M207.5 233.74v7.22M205.6 233.74h3.8M205.6 240.95h3.8M208.75 232.97v7.26M206.85 232.97h3.8M206.85 240.23h3.8M210 232.44v7.28M208.1 232.44h3.8M208.1 239.73h3.8M211.25 233.84v7.21M209.35 233.84h3.8M209.35 241.06h3.8M212.5 235.3v7.14M210.6 235.3h3.8M210.6 242.43h3.8M213.75 235.95v7.1M211.85 235.95h3.8M211.85 243.05h3.8M215 236.7v7.06M213.1 236.7h3.8M213.1 243.76h3.8M216.25 235.95v7.1M214.35 235.95h3.8M214.35 243.05h3.8M217.5 235.93v7.1M215.6 235.93h3.8M215.6 243.03h3.8M218.7 236.82v7.06M216.8 236.82h3.8M216.8 243.88h3.8M219.9 237.32v7.03M218 237.32h3.8M218 244.35h3.8M221.15 236.41v7.08M219.25 236.41h3.8M219.25 243.49h3.8M222.4 234v7.2M220.5 234h3.8M220.5 241.2h3.8M224.9 240.66v6.87M223 240.66h3.8M223 247.54h3.8M226.15 239.26v6.94M224.25 239.26h3.8M224.25 246.2h3.8M227.4 237.28v7.04M225.5 237.28h3.8M225.5 244.32h3.8M228.65 237.17v7.04M226.75 237.17h3.8M226.75 244.21h3.8M229.9 235.54v7.12M228 235.54h3.8M228 242.66h3.8M231.15 236v7.1M229.25 236h3.8M229.25 243.1h3.8M232.4 237.28v7.04M230.5 237.28h3.8M230.5 244.32h3.8M233.65 237.62v7.02M231.75 237.62h3.8M231.75 244.64h3.8M234.9 238.1v6.99M233 238.1h3.8M233 245.1h3.8M236.15 238.66v6.97M234.25 238.66h3.8M234.25 245.63h3.8M237.4 238.92v6.95M235.5 238.92h3.8M235.5 245.88h3.8M238.65 238.22v6.99M236.75 238.22h3.8M236.75 245.21h3.8M239.9 238.1v6.99M238 238.1h3.8M238 245.1h3.8M241.15 237.88v7.01M239.25 237.88h3.8M239.25 244.89h3.8M242.4 238.1v6.99M240.5 238.1h3.8M240.5 245.1h3.8M243.65 239.49v6.93M241.75 239.49h3.8M241.75 246.41h3.8M244.9 241.48v6.83M243 241.48h3.8M243 248.32h3.8M246.15 242.14v6.8M244.25 242.14h3.8M244.25 248.94h3.8M247.4 243.22v6.75M245.5 243.22h3.8M245.5 249.98h3.8M249.9 240.82v6.86M248 240.82h3.8M248 247.68h3.8M252.4 239.84v6.91M250.5 239.84h3.8M250.5 246.76h3.8M254.9 242.9v6.77M253 242.9h3.8M253 249.66h3.8M257.4 245.78v6.64M255.5 245.78h3.8M255.5 252.42h3.8M260 243.94v6.72M258.1 243.94h3.8M258.1 250.66h3.8M262.5 245.37v6.66M260.6 245.37h3.8M260.6 252.03h3.8M264.4 247.76v6.56M262.5 247.76h3.8M262.5 254.31h3.8M266.9 242.81v6.77M265 242.81h3.8M265 249.59h3.8M269.4 247.15v6.58M267.5 247.15h3.8M267.5 253.73h3.8M271.9 244.76v6.68M270 244.76h3.8M270 251.44h3.8M274.4 247.43v6.57M272.5 247.43h3.8M272.5 254h3.8M276.9 250.48v6.44M275 250.48h3.8M275 256.92h3.8M279.4 247.7v6.56M277.5 247.7h3.8M277.5 254.26h3.8M281.8 251.8v6.39M279.9 251.8h3.8M279.9 258.2h3.8M284.3 250.17v6.46M282.4 250.17h3.8M282.4 256.62h3.8M286.8 249.25v6.49M284.9 249.25h3.8M284.9 255.75h3.8M289.3 253.19v6.34M287.4 253.19h3.8M287.4 259.53h3.8M291.8 253.03v6.34M289.9 253.03h3.8M289.9 259.37h3.8M294.3 254.85v6.28M292.4 254.85h3.8M292.4 261.12h3.8M296.8 256.19v6.23M294.9 256.19h3.8M294.9 262.41h3.8M300 250.66v6.44M298.1 250.66h3.8M298.1 257.1h3.8M302.4 249.87v6.47M300.5 249.87h3.8M300.5 256.33h3.8M304.9 254.45v6.29M303 254.45h3.8M303 260.75h3.8M307.4 253.03v6.34M305.5 253.03h3.8M305.5 259.37h3.8M309.9 254.25v6.3M308 254.25h3.8M308 260.55h3.8M312.4 256.8v6.21M310.5 256.8h3.8M310.5 263h3.8M314.9 257.12v6.2M313 257.12h3.8M313 263.31h3.8M317.4 256.19v6.23M315.5 256.19h3.8M315.5 262.41h3.8M319.9 255.54v6.25M318 255.54h3.8M318 261.79h3.8M322.4 256.19v6.23M320.5 256.19h3.8M320.5 262.41h3.8M324.9 255.28v6.26M323 255.28h3.8M323 261.55h3.8M327.4 254.96v6.27M325.5 254.96h3.8M325.5 261.24h3.8M329.9 254.69v6.28M328 254.69h3.8M328 260.98h3.8" stroke-width="1.2"/>
<path d="M85 279.9v3.2M83.5 279.9h3M83.5 283.1h3M86.4 274.51v3.2M84.9 274.51h3M84.9 277.71h3M88.5 264.1v3.2M87 264.1h3M87 267.3h3M91.6 260v3.2M90.1 260h3M90.1 263.2h3M93.2 272.2v3.2M91.7 272.2h3M91.7 275.4h3M123.8 256.39v3.2M122.3 256.39h3M122.3 259.59h3M125.9 245.4v3.2M124.4 245.4h3M124.4 248.6h3M127.5 234.6v3.2M126 234.6h3M126 237.8h3M129.2 225v3.2M127.7 225h3M127.7 228.2h3M130.8 217.33v3.2M129.3 217.33h3M129.3 220.53h3M132.5 208.3v3.2M131 208.3h3M131 211.5h3M134.1 200.63v3.2M132.6 200.63h3M132.6 203.83h3" stroke-width="1.0"/>
<path d="M48.55 303.5h3.3M53.15 302.8h3.3M58.35 307.5h3.3M63.55 307.07h3.3M65.65 304h3.3M67.1 302.18h3.3M68.55 300h3.3M70 297.52h3.3M71.45 296.5h3.3M72.9 295.9h3.3M74.35 294.6h3.3M75.9 293.68h3.3M77.45 293.3h3.3M78.8 292.76h3.3M80.15 291h3.3M81.95 286.77h3.3M88.45 254.1h3.3M92.6 274.6h3.3M93.65 274.42h3.3M94.9 276.65h3.3M96.15 278.36h3.3M99.25 284.4h3.3M100.8 283.65h3.3M102.35 284.4h3.3M105.55 276.72h3.3M108.65 269.9h3.3M110.02 268.72h3.3M111.38 267.83h3.3M112.75 266.98h3.3M113.82 267.83h3.3M114.88 268.32h3.3M115.95 269.9h3.3M119.05 260.87h3.3M120.6 259.5h3.3M134.15 197.5h3.3M135.4 195.7h3.3M136.65 194.3h3.3M138.35 195.24h3.3M139.6 195.65h3.3M140.85 196.03h3.3M142.1 195.75h3.3M143.35 195.73h3.3M144.6 196.5h3.3M145.85 197.65h3.3M147.1 198.5h3.3M148.35 199.59h3.3M149.55 200.55h3.3M150.75 201.79h3.3M153.25 205.8h3.3M154.5 207.75h3.3M155.75 208.3h3.3M158.25 213.31h3.3M160.75 207.4h3.3M163.25 214.79h3.3M166.55 220.7h3.3M169.05 212.75h3.3M170.3 211.6h3.3M171.55 210.38h3.3M172.68 212.47h3.3M173.82 213.82h3.3M174.95 215.8h3.3M176.2 217.36h3.3M177.45 217.4h3.3M178.7 217.83h3.3M179.95 218.2h3.3M181.15 219.13h3.3M182.35 219.9h3.3M183.6 220.77h3.3M184.85 223.2h3.3M186.1 224.71h3.3M187.35 226.5h3.3M188.52 226.66h3.3M189.68 226.57h3.3M190.85 225.83h3.3M192.1 225.35h3.3M193.35 224.29h3.3M195.85 229.9h3.3M197.1 231.36h3.3M198.35 232.4h3.3M199.6 232.15h3.3M200.85 233.3h3.3M203.35 237.6h3.3M204.6 237.4h3.3M205.85 237.35h3.3M207.1 236.6h3.3M208.35 236.09h3.3M209.6 237.45h3.3M210.85 238.86h3.3M212.1 239.5h3.3M213.35 240.23h3.3M214.6 239.5h3.3M215.85 239.48h3.3M217.05 240.35h3.3M218.25 240.84h3.3M219.5 239.95h3.3M220.75 237.6h3.3M223.25 244.1h3.3M224.5 242.73h3.3M225.75 240.8h3.3M227 240.69h3.3M228.25 239.1h3.3M229.5 239.55h3.3M230.75 240.8h3.3M232 241.13h3.3M233.25 241.6h3.3M234.5 242.15h3.3M235.75 242.4h3.3M237 241.71h3.3M238.25 241.6h3.3M239.5 241.38h3.3M240.75 241.6h3.3M242 242.95h3.3M243.25 244.9h3.3M244.5 245.54h3.3M245.75 246.6h3.3M248.25 244.25h3.3M250.75 243.3h3.3M253.25 246.28h3.3M255.75 249.1h3.3M258.35 247.3h3.3M260.85 248.7h3.3M262.75 251.04h3.3M265.25 246.2h3.3M267.75 250.44h3.3M270.25 248.1h3.3M272.75 250.71h3.3M275.25 253.7h3.3M277.75 250.98h3.3M280.15 255h3.3M282.65 253.4h3.3M285.15 252.5h3.3M287.65 256.36h3.3M290.15 256.2h3.3M292.65 257.99h3.3M295.15 259.3h3.3M298.35 253.88h3.3M300.75 253.1h3.3M303.25 257.6h3.3M305.75 256.2h3.3M308.25 257.4h3.3M310.75 259.9h3.3M313.25 260.22h3.3M315.75 259.3h3.3M318.25 258.66h3.3M320.75 259.3h3.3M323.25 258.42h3.3M325.75 258.1h3.3M328.25 257.83h3.3" stroke-width="3.3"/>
<path d="M83.6 281.5h2.8M85 276.11h2.8M87.1 265.7h2.8M90.2 261.6h2.8M91.8 273.8h2.8M122.4 257.99h2.8M124.5 247h2.8M126.1 236.2h2.8M127.8 226.6h2.8M129.4 218.93h2.8M131.1 209.9h2.8M132.7 202.23h2.8" stroke-width="2.8"/>
<path d="M50.5 427.2 53.7 429.2 57.5 427.7 62.5 427.2 67.5 427.7 72.4 427.5 75 426.2 78.3 423.6 81.6 420.2 84.5 416.8 86.6 413.3 87.9 408.5 88.7 404.5 90 400.2 91.6 396.2 93.9 389.5 95.2 381.1 96.5 368 97.7 356.8 99 347.5 100.3 346.5 101.8 355 103.6 364.3 105.5 373.6 107.4 382 109.3 385.8 111.1 386.6 114.3 385.3 116.8 378.6 119.3 376.1 121.8 382.3 124.2 387.3 127.3 382.1 129.4 372.8 131.4 364.4 133.5 358.2 135.6 353 137.7 349.9 139.7 346.8 141.8 344.7 144.9 343.7 148.1 343.7 151.2 344.7 154.3 345.3 157.4 346 160.5 345.7 163.7 345.7 166.2 344 168 341 169.9 339.6 173 338.5 176.1 337 179.2 335.8 181.3 335.3 184.4 336.3 187.6 338 190.7 340.5 193.8 342.3 196.9 344.3 200 346.6 202.5 347.5 205 349.1 207.5 349.9 210 350.8 212.5 352.4 215 354.9 217.5 351.6 220 354.1 222.4 355.8 224.9 356.6 227.4 354.1 229.9 352.4 232.4 355.8 234.9 357.4 237.4 356.6 239.9 357.4 242.4 356.6 244.9 357.4 247.4 355.8 249.9 354.9 252.4 355.8 254.9 358.3 257.4 360.8 260 362.6 262.9 361.3 265.8 360.6 268.7 362.8 271.6 363.5 274.6 363.5 277.5 364.9 280.4 368.6 282.6 365.7 285.5 367.1 288.4 368.6 291.3 370.8 294.2 370 297.1 369.3 300 370.8 302.9 373.7 305.9 375.1 308.8 373.7 311.7 375.9 314.6 378 317.5 375.1 320.4 376.6 323.3 378.8 326.2 380.2 328.4 380.9 330.6 378.8" stroke-width="3.3"/>
<path d="M48.59 426.57h3.6M50.39 427.43h3.6M51.92 428.96h3.6M53.53 428.46h3.6M55.42 427.58h3.6M60.44 426.46h3.6M65.65 428.29h3.6M70.37 427h3.6M71.98 427.66h3.6M73.25 426.01h3.6M75.14 424.08h3.6M76.72 423.22h3.6M77.94 421.21h3.6M79.69 420.77h3.6M81.06 418.65h3.6M82.78 416.57h3.6M84.83 412.51h3.6M85.84 407.97h3.6M87.01 404.37h3.6M88.09 400.35h3.6M89.77 395.84h3.6M92.28 389.86h3.6M93.25 381.23h3.6M94.72 368.68h3.6M96.04 356.42h3.6M97.49 346.81h3.6M98.45 346.96h3.6M99.79 354.98h3.6M101.52 364.6h3.6M103.86 373.73h3.6M105.83 381.66h3.6M107.62 385.97h3.6M109.35 386.52h3.6M111.1 386.75h3.6M112.48 385.6h3.6M114.74 378.96h3.6M116.34 378.24h3.6M117.69 375.71h3.6M119.93 382.6h3.6M122.11 387.23h3.6M125.3 381.41h3.6M127.34 373.28h3.6M129.38 363.95h3.6M131.63 358.87h3.6M133.55 352.91h3.6M135.93 350.59h3.6M138.09 347.46h3.6M139.87 344.55h3.6M141.47 344.89h3.6M143.37 343.07h3.6M144.51 343.22h3.6M146.14 343.67h3.6M147.9 343.77h3.6M149.1 344.55h3.6M150.87 345.12h3.6M152.77 345.64h3.6M154.06 345.86h3.6M155.71 345.2h3.6M157.39 346.35h3.6M158.92 346.24h3.6M160.24 345.52h3.6M161.66 345.94h3.6M162.89 344.07h3.6M164.23 343.39h3.6M166.1 340.19h3.6M167.8 338.97h3.6M169.41 338.8h3.6M170.92 339.17h3.6M172.82 337.12h3.6M174.15 336.73h3.6M175.77 335.72h3.6M177.61 336.69h3.6M179.48 335.27h3.6M180.8 335.08h3.6M182.51 335.88h3.6M184.4 336.54h3.6M185.51 338.81h3.6M187.37 338.61h3.6M188.93 339.65h3.6M190.47 342.26h3.6M192.22 342.65h3.6M193.41 343.06h3.6M194.9 344.79h3.6M196.67 345.95h3.6M198.1 346.1h3.6M199.64 347.92h3.6M200.91 348.05h3.6M202.14 348.73h3.6M203.04 349.13h3.6M204.36 348.65h3.6M205.42 349.5h3.6M206.81 350.7h3.6M208.47 350.71h3.6M209.71 352.48h3.6M210.97 352.16h3.6M211.78 353.16h3.6M213.02 354.37h3.6M214.52 353.97h3.6M215.9 351.56h3.6M217.04 353.39h3.6M217.95 354.39h3.6M219.65 355.46h3.6M220.75 355.76h3.6M221.66 356.72h3.6M223 357.14h3.6M224.63 355.16h3.6M225.54 354.9h3.6M226.98 352.66h3.6M227.88 351.77h3.6M229.59 354.65h3.6M230.39 356.39h3.6M232.14 356.88h3.6M233.01 357.49h3.6M234.13 356.13h3.6M235.88 356.87h3.6M236.87 357.78h3.6M238.06 358.07h3.6M239.55 356.48h3.6M240.45 356.23h3.6M241.69 357.16h3.6M242.96 357.25h3.6M244.13 357.34h3.6M245.51 355.72h3.6M246.9 356.08h3.6M248.05 355.65h3.6M249.35 355.41h3.6M250.61 354.93h3.6M251.81 356.48h3.6M252.8 358.84h3.6M254.15 359.5h3.6M255.74 360.9h3.6M256.8 361.73h3.6M258.23 363.11h3.6M259.41 362.06h3.6M260.95 360.9h3.6M262.71 360.96h3.6M264.04 361.07h3.6M265.7 361.6h3.6M266.97 362.81h3.6M268.36 363.5h3.6M269.77 363.56h3.6M271.29 364.29h3.6M272.92 364.18h3.6M274.52 363.77h3.6M275.74 365.7h3.6M277.35 366.1h3.6M278.37 368.5h3.6M280.54 365.23h3.6M281.99 366.71h3.6M283.87 367.81h3.6M284.94 368.24h3.6M286.7 367.96h3.6M288.28 370.54h3.6M289.33 371.61h3.6M290.89 370.38h3.6M292.69 370.6h3.6M293.65 369.53h3.6M295.31 369.01h3.6M296.57 369.72h3.6M298.33 369.94h3.6M299.68 372.14h3.6M300.81 373.4h3.6M302.67 374.42h3.6M303.84 375.97h3.6M305.72 375.25h3.6M306.76 373.28h3.6M308.17 375.3h3.6M309.76 375.23h3.6M311.3 377.69h3.6M312.99 377.57h3.6M314.04 377.3h3.6M315.74 375.46h3.6M316.9 375.05h3.6M318.71 376.47h3.6M319.79 378.49h3.6M321.58 379.34h3.6M322.7 380.14h3.6M324.14 380.85h3.6M326.57 380.61h3.6M328.83 379.57h3.6" stroke-width="3.6"/>
<path d="M143.35 340.6v7.2M148.1 340.1v7.2M149.65 340.6v7.2M151.2 341.1v7.2M152.75 341.4v7.2M162.1 342.1v7.2M164.95 341.25v7.2M166.2 340.4v7.2M168 337.4v7.2M173 334.9v7.2M174.55 334.15v7.2M177.65 332.8v7.2M181.3 331.7v7.2M182.85 332.2v7.2M186 333.55v7.2M192.25 337.8v7.2M198.45 341.85v7.2M201.25 343.45v7.2M202.5 343.9v7.2M203.75 344.7v7.2M207.5 346.3v7.2M208.75 346.75v7.2M218.75 349.25v7.2M231.15 350.5v7.2M236.15 353.4v7.2M238.65 353.4v7.2M241.15 353.4v7.2M243.65 353.4v7.2M244.9 353.8v7.2M260 359v7.2M264.35 357.35v7.2M273.1 359.9v7.2M289.85 366.1v7.2M291.3 367.2v7.2M294.2 366.4v7.2M304.4 370.8v7.2M313.15 373.35v7.2M317.5 371.5v7.2M321.85 374.1v7.2" stroke-width="1.4"/>
</g>
<path d="M416.9 235.7C419.18 235.68 425.9 235.67 430.6 235.6C435.3 235.53 440.73 235.42 445.1 235.3C449.47 235.18 453.65 235.1 456.8 234.9C459.95 234.7 462.18 234.4 464 234.1C465.82 233.8 466.6 233.75 467.7 233.1C468.8 232.45 469.75 231.28 470.6 230.2C471.45 229.12 472.07 228.17 472.8 226.6C473.53 225.03 474.4 222.98 475 220.8C475.6 218.62 475.92 216.05 476.4 213.5C476.88 210.95 477.42 207.45 477.9 205.5C478.38 203.55 478.82 202.05 479.3 201.8C479.78 201.55 480.32 202.9 480.8 204C481.28 205.1 481.72 207.35 482.2 208.4C482.68 209.45 483.1 210.33 483.7 210.3C484.3 210.27 485.22 209.62 485.8 208.2C486.38 206.78 486.8 204.57 487.2 201.8C487.6 199.03 487.9 195.23 488.2 191.6C488.5 187.97 488.75 184.43 489 180C489.25 175.57 489.47 170 489.7 165C489.93 160 490.2 154.17 490.4 150C490.6 145.83 490.7 144.17 490.9 140C491.1 135.83 491.27 129.58 491.6 125C491.93 120.42 492.4 116.67 492.9 112.5C493.4 108.33 494.12 106.08 494.6 100C495.08 93.92 495.42 82.67 495.8 76C496.18 69.33 496.55 65.17 496.9 60C497.25 54.83 497.62 49 497.9 45C498.18 41 498.38 38.27 498.6 36C498.82 33.73 499 31.4 499.2 31.4C499.4 31.4 499.58 33.73 499.8 36C500.02 38.27 500.22 41 500.5 45C500.78 49 501.22 54.83 501.5 60C501.78 65.17 501.9 68.5 502.2 76C502.5 83.5 502.98 98.92 503.3 105C503.62 111.08 503.77 110.21 504.1 112.5C504.43 114.79 504.63 116.75 505.3 118.75C505.97 120.75 507.11 122.42 508.1 124.5C509.09 126.58 510.2 128.73 511.25 131.25C512.3 133.77 513.44 137.39 514.4 139.6C515.36 141.81 516.05 143.13 517 144.5C517.95 145.87 518.88 146.73 520.1 147.8C521.32 148.87 522.9 149.87 524.3 150.9C525.7 151.93 527.12 153.2 528.5 154C529.88 154.8 531.22 155.35 532.6 155.7C533.98 156.05 535.42 155.75 536.8 156.1C538.18 156.45 539.52 156.93 540.9 157.8C542.28 158.67 543.72 159.85 545.1 161.3C546.48 162.75 547.82 164.6 549.2 166.5C550.58 168.4 552 170.62 553.4 172.7C554.8 174.78 556.22 177.08 557.6 179C558.98 180.92 560.32 182.82 561.7 184.2C563.08 185.58 564.22 186.07 565.9 187.3C567.58 188.53 569.48 190.15 571.8 191.6C574.12 193.05 577.17 194.75 579.8 196C582.43 197.25 584.32 198.18 587.6 199.1C590.88 200.02 595.87 200.72 599.5 201.5C603.13 202.28 606.12 202.98 609.4 203.8C612.68 204.62 615.92 205.57 619.2 206.4C622.48 207.23 625.8 208.07 629.1 208.8C632.4 209.53 635.7 210.22 639 210.8C642.3 211.38 645.62 211.82 648.9 212.3C652.18 212.78 655.42 213.3 658.7 213.7C661.98 214.1 665.3 214.37 668.6 214.7C671.9 215.03 675.2 215.43 678.5 215.7C681.8 215.97 685.4 216.13 688.4 216.3C691.4 216.47 695.15 216.63 696.5 216.7" fill="none" stroke="#D95319" stroke-width="2" stroke-linejoin="round"/>
<path d="M416.9 432.3C424.08 432.28 451.88 432.25 460 432.2C468.12 432.15 464.25 432.27 465.6 432C466.95 431.73 467.37 431.08 468.1 430.6C468.83 430.12 469.27 429.52 470 429.1C470.73 428.68 471.77 429 472.5 428.1C473.23 427.2 473.82 425.47 474.4 423.7C474.98 421.93 475.53 418.85 476 417.5C476.47 416.15 476.75 415.5 477.2 415.6C477.65 415.7 478.13 416.97 478.7 418.1C479.27 419.23 479.87 420.95 480.6 422.4C481.33 423.85 482.17 425.43 483.1 426.8C484.03 428.17 485.3 429.77 486.2 430.6C487.1 431.43 487.77 432.12 488.5 431.8C489.23 431.48 489.98 430.67 490.6 428.7C491.22 426.73 491.73 423.53 492.2 420C492.67 416.47 492.98 411.67 493.4 407.5C493.82 403.33 494.28 398.75 494.7 395C495.12 391.25 495.55 388.33 495.9 385C496.25 381.67 496.48 379.5 496.8 375C497.12 370.5 497.48 363.83 497.8 358C498.12 352.17 498.32 346.47 498.75 340C499.18 333.53 499.84 326.15 500.4 319.2C500.96 312.25 501.58 305.25 502.1 298.3C502.62 291.35 503.02 284.09 503.5 277.5C503.98 270.91 504.47 263.27 505 258.75C505.53 254.23 506.15 250.74 506.7 250.4C507.25 250.06 507.78 253.22 508.3 256.7C508.82 260.18 509.31 265.37 509.8 271.25C510.29 277.13 510.73 285.41 511.25 292C511.77 298.59 512.27 306.45 512.9 310.8C513.52 315.15 514.13 316.7 515 318.1C515.87 319.5 516.88 319.09 518.1 319.2C519.32 319.31 521.08 318.23 522.3 318.75C523.52 319.27 524.37 320.49 525.4 322.3C526.43 324.11 527.45 327.52 528.5 329.6C529.55 331.68 530.65 333.69 531.7 334.8C532.75 335.91 533.52 336.63 534.8 336.25C536.08 335.87 537.95 333.48 539.4 332.5C540.85 331.52 542.12 330.52 543.5 330.4C544.88 330.28 546.32 330.87 547.7 331.8C549.08 332.73 550.58 334.43 551.8 336C553.02 337.57 553.95 339.12 555 341.2C556.05 343.28 557.07 346.08 558.1 348.5C559.13 350.92 560.17 353.28 561.2 355.7C562.23 358.12 563.27 360.73 564.3 363C565.33 365.27 566.37 367.55 567.4 369.3C568.43 371.05 569.4 372.12 570.5 373.5C571.6 374.88 572.75 376.38 574 377.6C575.25 378.82 576.58 379.92 578 380.8C579.42 381.68 581 382.33 582.5 382.9C584 383.47 585.35 383.8 587 384.2C588.65 384.6 590.47 385.02 592.4 385.3C594.33 385.58 596.37 385.57 598.6 385.9C600.83 386.23 603.63 386.9 605.8 387.3C607.97 387.7 609.65 388.03 611.6 388.3C613.55 388.57 615.67 388.68 617.5 388.9C619.33 389.12 621.03 389.1 622.6 389.6C624.17 390.1 625.45 391.1 626.9 391.9C628.35 392.7 629.72 393.5 631.3 394.4C632.88 395.3 634.58 396.4 636.4 397.3C638.22 398.2 640.27 399.12 642.2 399.8C644.13 400.48 646.05 401.02 648 401.4C649.95 401.78 651.72 401.93 653.9 402.1C656.08 402.27 658.68 402.3 661.1 402.4C663.52 402.5 665.97 402.63 668.4 402.7C670.83 402.77 673.27 402.68 675.7 402.8C678.13 402.92 680.58 403.18 683 403.4C685.42 403.62 687.95 403.85 690.2 404.1C692.45 404.35 695.45 404.77 696.5 404.9" fill="none" stroke="#0072BD" stroke-width="2" stroke-linejoin="round"/>
<text x="90.75" y="145" class="pk" fill="#000" text-anchor="middle">A</text>
<text x="112.2" y="138.8" class="pk" fill="#000" text-anchor="middle">D</text>
<text x="141.2" y="23.7" class="pk" fill="#000" text-anchor="middle">B</text>
<text x="90.6" y="244.5" class="pk" fill="#000" text-anchor="middle">A</text>
<text x="140.4" y="182.5" class="pk" fill="#000" text-anchor="middle">B</text>
<text x="99.9" y="341.2" class="pk" fill="#000" text-anchor="middle">A</text>
<text x="148.4" y="336.4" class="pk" fill="#000" text-anchor="middle">B</text>
<text x="178.7" y="326" class="pk" fill="#000" text-anchor="middle">C</text>
<text x="222" y="163.8" class="lb" fill="#000" text-anchor="start">10 K - low dose</text>
<text x="222.4" y="279" class="lb" fill="#000" text-anchor="start">10 K - high dose</text>
<text x="218.2" y="396.3" class="lb" fill="#000" text-anchor="start">RT - high dose</text>
<text x="499.1" y="28.4" class="pk" fill="#D95319" text-anchor="middle">B</text>
<text x="478" y="195.3" class="pk" fill="#D95319" text-anchor="middle">D</text>
<text x="630.6" y="184.1" class="lb" fill="#D95319" text-anchor="middle">OCEAN</text>
<text x="505.9" y="243.3" class="pk" fill="#0072BD" text-anchor="middle">B</text>
<text x="477" y="405.6" class="pk" fill="#0072BD" text-anchor="middle">D</text>
<text x="605.2" y="373.3" class="lb" fill="#0072BD" text-anchor="start">deMon2K</text>
<text x="305.9" y="34.3" class="pt" text-anchor="middle">(a)</text>
<text x="674" y="35.6" class="pt" text-anchor="middle">(b)</text>
<text x="168.6" y="476.4" class="at" font-style="italic">&#969;</text>
<text x="185.3" y="476.4" class="at" style="font-size:14.3px">[eV]</text>
<text x="535.4" y="476.4" class="at" font-style="italic">&#969;</text>
<text x="552.1" y="476.4" class="at" style="font-size:14.3px">[eV]</text>
<text transform="translate(11.7 226) rotate(-90)" class="at yt" text-anchor="middle">Intensity [arb. units]</text>
<text transform="translate(377.7 226) rotate(-90)" class="at yt" text-anchor="middle">Intensity [arb. units]</text>
</svg>
</body></html>
